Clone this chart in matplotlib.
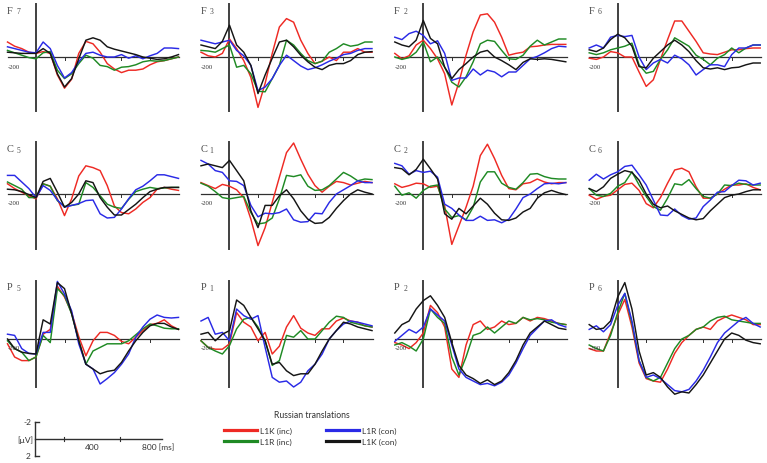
import matplotlib
matplotlib.use("Agg")
import matplotlib.pyplot as plt
from matplotlib.lines import Line2D

# ---------------- data (amplitude units; negative plotted upward) ----------------
times_ms = list(range(-200, 1001, 50))
conditions = ["L1K (inc)", "L1R (inc)", "L1R (con)", "L1K (con)"]
colors = ["#ee2a24", "#1f8a24", "#2a2ae6", "#151515"]
electrodes = [["F7", "F3", "F2", "F6"],
              ["C5", "C1", "C2", "C6"],
              ["P5", "P1", "P2", "P6"]]

F7 = {
    "L1K (inc)": [-1.25, -0.9, -0.7, -0.4, -0.3, -0.45, -0.3, 1.5, 2.6, 1.85, -0.3, -1.3, -1.1, -0.4, 0.55, 1.0, 1.3, 1.1, 1.1, 1.0, 0.65, 0.4, 0.3, 0.15, 0.0],
    "L1R (inc)": [-0.55, -0.35, -0.15, 0.05, 0.15, -0.35, -0.45, 1.1, 1.8, 1.4, 0.55, -0.15, 0.1, 0.7, 0.8, 1.1, 0.85, 0.8, 0.65, 0.4, 0.3, 0.35, 0.3, 0.15, 0.0],
    "L1R (con)": [-0.85, -0.7, -0.55, -0.4, -0.35, -1.25, -0.7, 0.7, 1.75, 1.3, 0.4, -0.3, -0.4, -0.15, 0.0, 0.0, -0.2, 0.1, -0.1, 0.15, -0.1, -0.3, -0.75, -0.75, -0.7],
    "L1K (con)": [-0.4, -0.35, -0.3, -0.3, -0.3, -0.7, -0.3, 1.4, 2.5, 1.8, 0.15, -1.4, -1.6, -1.4, -0.85, -0.65, -0.5, -0.35, -0.2, 0.0, 0.1, 0.2, 0.15, 0.0, -0.2],
}
F3 = {
    "L1K (inc)": [-0.4, -0.1, 0.0, -0.3, -1.5, -0.7, 0.3, 1.7, 4.2, 2.2, -0.3, -2.5, -3.2, -2.9, -1.4, -0.3, 0.55, 0.35, 0.0, 0.3, -0.4, -0.4, -0.7, -0.4, -0.4],
    "L1R (inc)": [-0.55, -0.5, -0.4, -0.7, -1.0, 0.85, 0.7, 1.4, 2.85, 2.9, 1.8, 0.7, -1.4, -1.0, -0.3, 0.3, 0.55, 0.35, -0.4, -0.7, -1.1, -0.9, -1.0, -1.25, -1.25],
    "L1R (con)": [-1.4, -1.25, -1.1, -1.25, -1.4, -0.55, -0.1, 0.7, 2.8, 2.5, 1.8, 0.7, -0.15, 0.3, 0.75, 1.05, 0.9, 0.65, 0.35, 0.1, -0.2, -0.3, -0.55, -0.7, -0.7],
    "L1K (con)": [-1.0, -0.85, -0.7, -1.3, -2.65, -1.0, -0.4, 0.7, 3.05, 1.5, 0.1, -1.25, -1.4, -0.85, -0.15, 0.4, 0.85, 1.05, 0.7, 0.55, 0.55, 0.3, -0.2, -0.4, -0.45],
}
F2 = {
    "L1K (inc)": [-0.3, 0.15, -0.1, -1.0, -1.4, -0.7, 0.15, 1.4, 4.0, 2.1, -0.15, -2.1, -3.5, -3.6, -2.9, -1.65, -0.15, -0.3, -0.4, -0.85, -0.9, -1.0, -1.05, -1.05, -1.05],
    "L1R (inc)": [0.0, 0.2, 0.05, -0.4, -1.25, 0.4, 0.0, 0.85, 2.1, 2.5, 1.65, 0.4, -1.1, -1.4, -1.3, -0.55, 0.15, 0.2, -0.15, -0.9, -1.4, -1.0, -1.25, -1.5, -1.5],
    "L1R (con)": [-1.65, -1.45, -1.95, -2.15, -1.8, -1.1, -1.35, -0.3, 1.95, 1.75, 1.75, 1.0, 1.5, 1.1, 1.25, 1.65, 1.25, 1.25, 0.7, 0.15, -0.05, -0.35, -0.7, -0.9, -0.85],
    "L1K (con)": [-1.25, -1.0, -0.85, -1.4, -3.05, -1.55, -1.1, 0.85, 1.8, 1.05, 0.55, 0.0, -0.4, -0.55, 0.0, 0.3, 0.65, 1.05, 0.45, 0.15, 0.2, 0.15, 0.2, 0.3, 0.4],
}
F6 = {
    "L1K (inc)": [0.1, 0.2, 0.0, -0.45, -0.35, 0.0, 0.0, 1.25, 2.45, 1.9, 0.2, -1.45, -3.0, -3.0, -2.15, -1.3, -0.35, -0.25, -0.2, -0.4, -0.6, -0.6, -0.7, -0.75, -0.75],
    "L1R (inc)": [-0.35, -0.2, -0.35, -0.6, -0.75, -0.9, -1.15, 0.65, 1.35, 1.2, 0.2, -0.6, -1.6, -1.25, -0.9, -0.15, 0.2, 0.65, 0.1, -0.2, -0.75, -0.35, -0.75, -1.0, -1.0],
    "L1R (con)": [-0.75, -1.0, -0.75, -1.65, -1.8, -1.7, -1.8, 0.0, 1.05, 0.5, 0.2, 0.5, -0.15, 0.15, 0.65, 1.5, 1.05, 0.65, 0.65, 0.8, -0.2, -0.75, -0.75, -1.0, -1.0],
    "L1K (con)": [-0.6, -0.45, -0.75, -1.45, -1.9, -1.6, -0.9, 0.8, 0.9, 0.1, -0.45, -1.0, -1.4, -1.0, -0.45, 0.3, 0.9, 1.0, 0.9, 1.05, 0.9, 0.85, 0.65, 0.5, 0.5],
}
C5 = {
    "L1K (inc)": [-0.85, -0.45, -0.15, 0.15, 0.4, -0.85, -0.65, 0.4, 1.8, 0.4, -1.5, -2.35, -2.2, -1.95, -0.7, 1.0, 1.55, 1.65, 1.25, 0.7, 0.3, -0.4, -0.55, -0.4, -0.3],
    "L1R (inc)": [-1.0, -0.7, -0.4, 0.3, 0.3, -0.85, -0.65, 0.55, 1.05, 0.95, 0.85, -0.95, -0.55, 0.15, 0.85, 1.1, 1.2, 0.45, -0.2, -0.4, -0.55, -0.45, -0.5, -0.55, -0.55],
    "L1R (con)": [-1.55, -1.55, -1.0, -0.45, 0.3, -0.7, -0.3, 0.5, 1.1, 0.95, 0.8, 0.55, 0.5, 1.65, 2.0, 1.95, 1.25, 0.4, -0.35, -0.65, -1.1, -1.6, -1.6, -1.45, -1.3],
    "L1K (con)": [-0.4, -0.35, -0.2, 0.05, 0.3, -1.05, -1.3, -0.15, 1.1, 0.7, 0.0, -1.1, -0.95, 0.3, 1.1, 1.75, 1.75, 1.3, 0.85, 0.3, -0.2, -0.4, -0.55, -0.55, -0.55],
}
C1 = {
    "L1K (inc)": [-0.95, -0.7, -0.45, -0.8, -0.65, -0.35, 0.3, 2.1, 4.3, 2.8, 0.7, -1.4, -3.45, -4.25, -2.9, -1.65, -0.7, -0.15, -0.65, -1.05, -0.95, -0.75, -0.9, -1.05, -0.95],
    "L1R (inc)": [-0.9, -0.65, -0.2, 0.3, 0.4, 0.3, 0.2, 1.55, 2.5, 2.4, 2.0, 0.4, -1.55, -1.45, -1.6, -0.65, -0.3, -0.35, -0.7, -1.25, -1.8, -1.5, -1.1, -1.25, -1.2],
    "L1R (con)": [-2.8, -2.5, -1.95, -1.8, -1.1, -1.05, -0.7, 0.95, 1.9, 1.6, 1.65, 1.55, 1.25, 2.15, 2.35, 2.3, 1.6, 1.65, 0.7, 0.0, -0.35, -0.7, -1.1, -0.95, -0.95],
    "L1K (con)": [-2.35, -2.5, -2.35, -2.2, -2.8, -1.95, -1.1, 1.4, 2.8, 0.95, 0.95, 0.15, -0.35, 0.4, 1.4, 2.1, 2.45, 2.4, 1.95, 1.2, 0.55, 0.0, -0.35, -0.15, 0.0],
}
C2 = {
    "L1K (inc)": [-0.85, -0.55, -0.7, -0.9, -0.85, -0.55, -0.65, 1.0, 4.2, 2.65, 1.1, -0.65, -3.2, -4.15, -2.95, -1.55, -0.45, -0.35, -0.85, -0.95, -1.25, -1.0, -0.85, -0.95, -0.95],
    "L1R (inc)": [-0.65, 0.1, -0.1, 0.35, -0.3, -0.65, -0.75, 1.25, 1.95, 1.8, 2.15, 1.1, -1.0, -1.85, -1.85, -0.9, -0.55, -0.4, -0.95, -1.65, -1.7, -1.45, -1.3, -1.25, -1.25],
    "L1R (con)": [-2.55, -2.35, -1.65, -1.95, -1.8, -1.9, -1.4, 0.85, 1.2, 1.75, 2.2, 2.2, 1.85, 2.2, 2.15, 2.4, 2.1, 1.25, 0.3, 0.0, -0.45, -0.85, -0.9, -0.85, -0.95],
    "L1K (con)": [-2.2, -2.1, -1.6, -2.05, -2.9, -2.1, -1.25, 1.65, 2.1, 1.2, 1.65, 1.0, 0.35, 0.85, 1.6, 2.15, 2.2, 2.0, 1.5, 1.2, 0.35, -0.1, -0.3, -0.1, 0.05],
}
C6 = {
    "L1K (inc)": [0.1, 0.45, 0.2, 0.1, -0.35, -0.8, -0.9, -0.3, 0.8, 1.15, 0.3, -0.9, -2.0, -2.15, -1.85, -0.6, 0.35, 0.35, 0.0, -0.4, -0.75, -0.75, -0.85, -0.55, -0.35],
    "L1R (inc)": [-0.45, 0.1, 0.2, -0.05, -0.65, -0.95, -1.85, -0.75, 0.2, 1.05, 1.35, 0.35, -0.85, -0.75, -1.2, -0.45, 0.2, 0.35, 0.0, -0.75, -0.7, -0.9, -0.8, -0.75, -0.75],
    "L1R (con)": [-1.15, -1.65, -1.25, -1.6, -1.85, -2.3, -2.4, -1.6, -0.75, 0.5, 1.75, 1.8, 1.25, 1.8, 2.1, 2.0, 1.05, 0.5, -0.15, -0.2, -0.7, -1.15, -1.1, -0.75, -0.9],
    "L1K (con)": [-0.45, -0.2, -0.6, -1.3, -1.65, -1.95, -1.8, -1.15, 0.0, 0.85, 1.15, 1.0, 1.4, 1.7, 2.0, 2.15, 2.05, 1.4, 0.85, 0.3, 0.1, 0.0, -0.2, -0.35, -0.35],
}
P5 = {
    "L1K (inc)": [0.4, 1.5, 1.8, 1.8, 1.5, -0.4, -0.8, -4.4, -3.5, -2.2, -0.2, 1.4, 0.15, -0.55, -0.55, -0.3, 0.2, 0.4, -0.15, -0.7, -1.2, -1.3, -1.6, -1.1, -0.8],
    "L1R (inc)": [0.15, 0.8, 1.1, 1.8, 1.5, -0.3, 0.3, -4.2, -3.6, -2.1, 0.15, 2.1, 1.0, 0.7, 0.4, 0.4, 0.4, 0.15, -0.35, -0.85, -1.25, -1.1, -0.9, -0.85, -0.85],
    "L1R (con)": [-0.4, -0.3, 0.8, 1.2, 1.25, -0.55, -0.55, -4.8, -3.75, -2.35, 0.4, 2.1, 2.5, 3.75, 3.3, 2.8, 2.1, 1.25, -0.15, -1.0, -1.65, -2.0, -1.8, -1.75, -1.8],
    "L1K (con)": [0.0, 0.8, 1.1, 1.2, 1.25, -1.6, -1.25, -4.7, -4.2, -2.1, 0.15, 2.1, 2.5, 2.9, 2.7, 2.6, 1.95, 1.0, 0.15, -0.55, -1.1, -1.3, -1.3, -1.0, -0.8],
}
P1 = {
    "L1K (inc)": [0.15, 0.7, 0.85, 0.85, 0.4, -2.2, -1.4, -1.0, 0.15, -0.55, 1.25, 0.6, -1.0, -1.95, -0.9, -0.5, -0.3, -0.85, -0.85, -1.5, -1.75, -1.5, -1.4, -1.1, -1.0],
    "L1R (inc)": [0.15, 0.7, 1.0, 1.25, 0.55, -0.85, -1.65, -1.8, -1.0, 0.15, 2.2, 1.8, -0.3, -0.15, -0.7, 0.0, 0.0, -0.7, -1.4, -1.9, -1.8, -1.4, -1.25, -1.1, -1.0],
    "L1R (con)": [-1.5, -1.8, -0.4, -0.55, 0.15, -2.5, -1.95, -1.65, -1.95, 0.7, 3.2, 3.6, 3.5, 4.0, 3.6, 2.65, 2.1, 1.25, 0.0, -0.7, -1.25, -1.5, -1.4, -1.25, -1.1],
    "L1K (con)": [-0.4, -0.55, 0.15, -0.4, -0.7, -3.25, -2.8, -1.8, -0.85, 0.15, 2.1, 1.95, 2.65, 3.05, 2.9, 2.9, 2.1, 1.0, 0.0, -0.7, -1.4, -1.25, -1.0, -0.85, -0.7],
}
P2 = {
    "L1K (inc)": [0.3, 0.5, 0.8, 0.3, -0.5, -2.8, -2.2, -1.0, 2.5, 3.2, 0.5, -1.2, -1.5, -0.8, -1.0, -1.5, -1.2, -1.3, -1.8, -1.5, -1.8, -1.7, -1.5, -1.3, -1.2],
    "L1R (inc)": [0.5, 0.3, 0.6, 1.0, 0.0, -2.5, -1.8, -1.3, 1.5, 3.0, 1.5, -0.3, -0.5, -1.0, -0.5, -1.0, -1.5, -1.3, -1.8, -1.6, -1.7, -1.6, -1.4, -1.3, -1.2],
    "L1R (con)": [0.2, -0.3, -0.8, -0.5, -1.0, -2.5, -2.0, -1.5, 0.5, 2.5, 3.2, 3.5, 3.8, 3.7, 3.9, 3.6, 3.0, 2.0, 0.8, -0.3, -0.9, -1.5, -1.6, -1.2, -1.0],
    "L1K (con)": [-0.5, -1.2, -1.5, -2.5, -3.2, -3.6, -2.8, -1.8, 0.3, 2.2, 3.0, 3.3, 3.7, 3.4, 3.8, 3.5, 2.8, 1.8, 0.5, -0.5, -1.0, -1.5, -1.2, -0.9, -0.8],
}
P6 = {
    "L1K (inc)": [0.8, 1.0, 1.0, -0.5, -2.0, -3.3, -1.0, 2.0, 3.3, 3.5, 3.6, 2.5, 1.2, 0.3, -0.3, -0.8, -1.0, -0.8, -1.5, -1.8, -2.0, -1.8, -1.6, -1.2, -1.2],
    "L1R (inc)": [0.5, 0.8, 1.0, -0.3, -2.2, -3.8, -1.3, 1.8, 3.2, 3.5, 3.2, 2.0, 0.8, 0.0, -0.3, -0.8, -1.0, -1.5, -1.8, -1.9, -1.6, -1.5, -1.4, -1.3, -1.3],
    "L1R (con)": [-0.8, -1.1, -0.6, -1.2, -2.8, -3.8, -1.5, 1.8, 3.2, 3.0, 3.3, 3.8, 4.3, 4.4, 4.2, 3.5, 2.6, 1.5, 0.3, -0.5, -1.0, -1.5, -1.8, -1.3, -1.0],
    "L1K (con)": [-1.2, -0.8, -0.9, -1.5, -3.5, -4.7, -2.5, 1.0, 3.0, 2.8, 3.2, 4.0, 4.6, 4.4, 4.5, 3.8, 3.0, 2.0, 1.0, 0.0, -0.5, -0.3, 0.1, 0.3, 0.4],
}
panel_data = {"F7": F7, "F3": F3, "F2": F2, "F6": F6,
              "C5": C5, "C1": C1, "C2": C2, "C6": C6,
              "P5": P5, "P1": P1, "P2": P2, "P6": P6}

# ---------------- layout (pixels) ----------------
W, H = 767, 464
fig = plt.figure(figsize=(W / 100, H / 100), dpi=100)

col_zero_x = [36.0, 229.5, 423.3, 617.7]       # pixel x of 0 ms
row_zero_y = [58.0, 195.0, 340.0]              # pixel y of 0 uV
row_vline = [(-4.4, 4.5), (-4.3, 4.6), (-4.85, 4.0)]
PX_PER_MS = 0.1425
PX_PER_UNIT = 12.0
YHALF = 5.5
AX_COL = "#303030"
serif = "Liberation Serif"

def add_px_axes(left, top, width, height):
    return fig.add_axes([left / W, (H - top - height) / H, width / W, height / H])

for r in range(3):
    for c in range(4):
        name = electrodes[r][c]
        w = 1200 * PX_PER_MS
        h = 2 * YHALF * PX_PER_UNIT
        ax = add_px_axes(col_zero_x[c] - 200 * PX_PER_MS, row_zero_y[r] - YHALF * PX_PER_UNIT, w, h)
        ax.set_xlim(-200, 1000)
        ax.set_ylim(YHALF, -YHALF)
        ax.axis("off")
        ax.plot([-200, 1005], [0, 0], color=AX_COL, lw=0.9, clip_on=False, zorder=1)
        top, bot = row_vline[r]
        ax.plot([0, 0], [top, bot], color="#404040", lw=1.4, clip_on=False, zorder=1)
        for t in (200, 600, 800):
            ax.plot([t, t], [0, 0.25], color=AX_COL, lw=0.7, zorder=1)
        ax.text(-200, 0.75, "-200", fontsize=4.8, family=serif, color="#333333",
                ha="left", va="center")
        ly = top + 0.5
        ax.text(-205, ly, name[0], fontsize=7.5, family=serif, color="#4a4a4a",
                ha="left", va="center")
        ax.text(-140, ly + 0.1, name[1], fontsize=5.5, family=serif, color="#4a4a4a",
                ha="left", va="center")
        d = panel_data[name]
        for cond, col in zip(conditions, colors):
            ax.plot(times_ms, d[cond], color=col, lw=1.05, clip_on=False, zorder=2,
                    solid_joinstyle="round")

# ---------------- scale bar ----------------
sb = add_px_axes(35 - 200 * PX_PER_MS, 423, 1200 * PX_PER_MS, 34)
sb.set_xlim(-200, 1000)
sb.set_ylim(2, -2)
sb.axis("off")
sc = "#303030"
sb.plot([0, 0], [-2, 2], color=sc, lw=1.0, clip_on=False)
sb.plot([0, 25], [-2, -2], color=sc, lw=1.0, clip_on=False)
sb.plot([0, 25], [2, 2], color=sc, lw=1.0, clip_on=False)
sb.plot([0, 890], [0, 0], color=sc, lw=1.0, clip_on=False)
for t in (200, 600):
    sb.plot([t, t], [-0.2, 0.2], color=sc, lw=0.8)
lab = dict(fontsize=6, family="Lato", color="#333333")
sb.text(-28, -2, "-2", ha="right", va="center", **lab)
sb.text(-14, 0, "[\u00b5V]", ha="right", va="center", **lab)
sb.text(-28, 2, "2", ha="right", va="center", **lab)
sb.text(400, 0.9, "400", ha="center", va="center", **lab)
sb.text(750, 0.9, "800 [ms]", ha="left", va="center", **lab)

# ---------------- legend ----------------
fig.text(312 / W, 1 - 416 / H, "Russian translations", ha="center", va="center",
         fontsize=6.2, family="Lato", color="#333333")
handles = [Line2D([], [], color=col, lw=2.3) for col in colors]
leg = fig.legend(handles, conditions, ncol=2, loc="upper left",
                 bbox_to_anchor=(224 / W, 1 - 428 / H), frameon=False,
                 prop={"family": "Lato", "size": 6},
                 handlelength=4.0, handletextpad=0.35, columnspacing=4.0,
                 labelspacing=0.45, borderaxespad=0, borderpad=0)
for t in leg.get_texts():
    t.set_color("#333333")

fig.savefig("out.png", dpi=100)
